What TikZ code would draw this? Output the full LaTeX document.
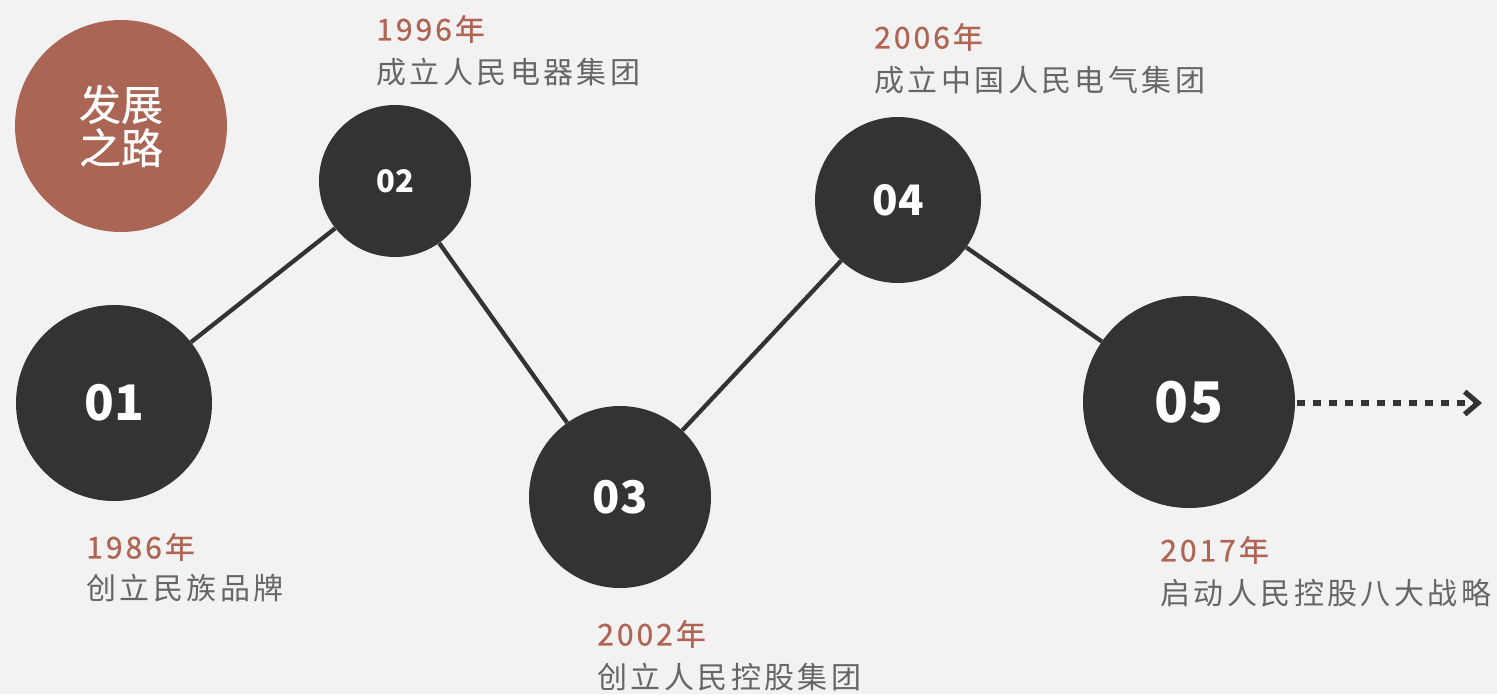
\documentclass[tikz,border=0pt]{standalone}
\usepackage{fontspec}
\setmainfont{Noto Sans CJK SC}
\newfontfamily\cjksp{Noto Sans CJK SC}[LetterSpace=11.5]
\newfontfamily\cjkmed{Noto Sans CJK SC}[LetterSpace=10,FakeBold=0.7]
\newfontfamily\cjktitle{Noto Sans CJK SC}[FakeBold=0.5]
\usetikzlibrary{arrows.meta}
\definecolor{bg}{HTML}{F2F2F2}
\definecolor{dark}{HTML}{333333}
\definecolor{rust}{HTML}{AB6555}
\definecolor{yr}{HTML}{B06453}
\definecolor{txt}{HTML}{666666}
\begin{document}
\begin{tikzpicture}[x=0.75pt,y=-0.75pt,
  ball/.style={circle,fill=dark,text=white,inner sep=0pt,font=\bfseries},
  conn/.style={draw=dark,line width=3.2pt},
  yearlbl/.style={anchor=west,inner sep=0pt,text=yr,font=\cjkmed\fontsize{22.5}{26}\selectfont},
  desclbl/.style={anchor=west,inner sep=0pt,text=txt,font=\cjksp\fontsize{22.5}{26}\selectfont}]
\fill[bg] (0,0) rectangle (1497,694);
\useasboundingbox (0,0) rectangle (1497,694);
% title
\node[circle,fill=rust,minimum size=159pt,inner sep=0pt,text=white,align=center,
  font=\cjktitle\fontsize{31.5}{32.5}\selectfont] (title) at (121,126) {发展\\之路};
% milestones
\node[ball,minimum size=147pt,font=\bfseries\fontsize{36.75}{40}\selectfont] (n1) at (114,403) {01};
\node[ball,minimum size=114pt,font=\bfseries\fontsize{23.25}{26}\selectfont] (n2) at (395,181) {02};
\node[ball,minimum size=136.5pt,font=\bfseries\fontsize{33.75}{36}\selectfont] (n3) at (620,497) {03};
\node[ball,minimum size=124.5pt,font=\bfseries\fontsize{31.5}{34}\selectfont] (n4) at (898,200) {04};
\node[ball,minimum size=159pt,font=\bfseries\fontsize{42}{46}\selectfont] (n5) at (1189,402) {05};
\draw[conn] (n1) -- (n2);
\draw[conn] (n2) -- (n3);
\draw[conn] (n3) -- (n4);
\draw[conn] (n4) -- (n5);
\coordinate (arr) at (1482,403);
\draw[draw=dark,line width=3.9pt,dash pattern=on 5.5pt off 6.5pt,
  -{Straight Barb[length=10pt,width=17pt,line width=3.9pt]}] (n5.east) ++(2,1) -- (arr);
% labels
\node[yearlbl] (y1) at (86,547) {1986年};
\node[desclbl] (d1) at (86,588) {创立民族品牌};
\node[yearlbl] (y2) at (376,29) {1996年};
\node[desclbl] (d2) at (376,72) {成立人民电器集团};
\node[yearlbl] (y3) at (597,634) {2002年};
\node[desclbl] (d3) at (597,677) {创立人民控股集团};
\node[yearlbl] (y4) at (874,37) {2006年};
\node[desclbl] (d4) at (874,80) {成立中国人民电气集团};
\node[yearlbl] (y5) at (1160,550) {2017年};
\node[desclbl] (d5) at (1160,593) {启动人民控股八大战略};
\end{tikzpicture}
\end{document}
